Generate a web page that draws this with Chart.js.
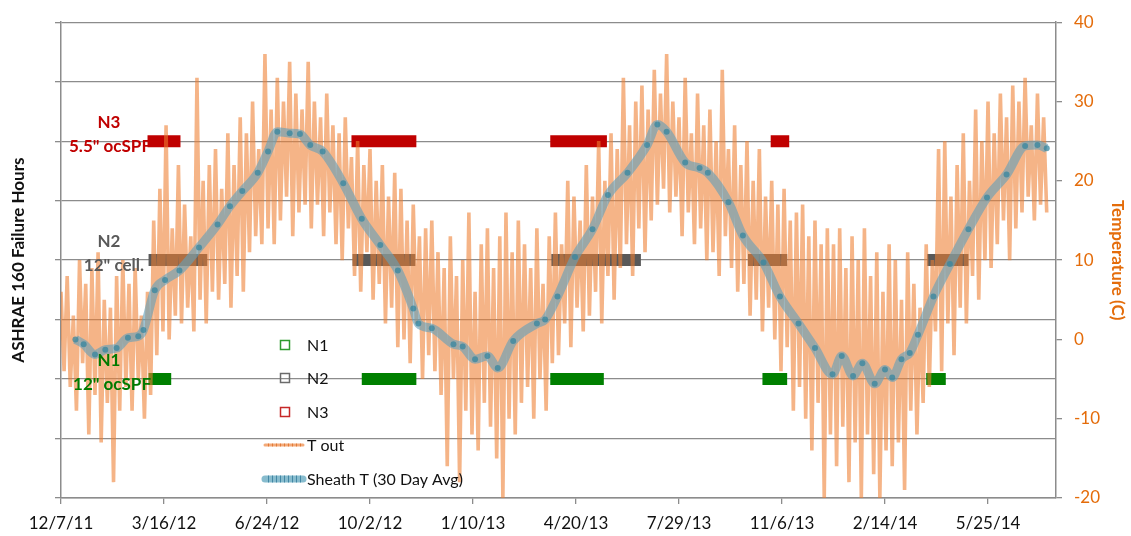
<!DOCTYPE html>
<html>
<head>
<meta charset="utf-8">
<script src="https://cdn.jsdelivr.net/npm/chart.js@4.4.1/dist/chart.umd.min.js"></script>
<style>
  html, body { margin: 0; padding: 0; background: #fff; }
  #wrap { width: 1131px; height: 536px; }
</style>
</head>
<body>
<div id="wrap"><canvas id="failureChart" width="1131" height="536"></canvas></div>
<script>
// x values are days counted from 12/7/11
const startDate = Date.UTC(2011, 11, 7);
const xMaxDays = 966;
const xTickStep = 100;
const tempMin = -20;
const tempMax = 40;
const tempStep = 10;

// T out, one reading every 3 days starting at day 0
const tOutStep = 3;
const tOut = [
  6, -4, 8, -6, 3, -9, 10, -3, 7, -12,
  9, -7, 11, -13, 5, -8, 4, -18, 8, -9,
  10, -6, 7, -9, 9, -5, 3, -10, 6, -7,
  15, -2, 19, 1, 27, 0, 14, 3, 22, 2,
  17, 4, 13, 1, 33, 5, 20, 2, 22, 6,
  24, 5, 19, 7, 26, 4, 22, 8, 28, 6,
  26, 11, 30, 13, 24, 12, 36, 14, 29, 12,
  33, 15, 30, 18, 35, 13, 31, 16, 29, 17,
  35, 14, 30, 17, 28, 13, 31, 16, 27, 12,
  26, 10, 28, 14, 23, 8, 25, 6, 22, 11,
  24, 5, 20, 7, 22, 2, 18, 4, 21, -1,
  19, 0, 15, -3, 17, 2, 13, -5, 14, -2,
  15, -4, 11, -7, 9, -16, 13, -5, 8, -18,
  10, -9, 16, -12, 6, -14, 12, -8, 14, -11,
  9, -15, 13, -20, 16, -10, 11, -12, 15, -8,
  12, -6, 9, -10, 14, -5, 7, -9, 13, -3,
  16, -2, 12, 2, 20, -1, 18, 4, 15, 1,
  22, 3, 18, 6, 25, 2, 20, 8, 26, 5,
  24, 9, 33, 12, 27, 8, 30, 14, 32, 11,
  29, 15, 34, 17, 31, 19, 36, 16, 30, 18,
  28, 13, 33, 16, 26, 12, 31, 14, 27, 10,
  29, 11, 25, 8, 34, 13, 24, 9, 27, 6,
  22, 7, 25, 3, 20, 5, 24, 1, 18, 4,
  20, 0, 17, -4, 19, -1, 15, -9, 16, -6,
  17, -10, 13, -14, 15, -8, 12, -20, 14, -12,
  12, -16, 14, -11, 9, -18, 13, -13, 10, -20,
  14, -12, 8, -17, 11, -20, 6, -14, 12, -16,
  10, -13, 5, -19, 11, -9, 7, -12, 4, -8,
  12, -6, 10, 1, 24, -4, 25, 2, 18, -2,
  22, 4, 26, 2, 20, 8, 29, 5, 25, 10,
  30, 9, 26, 12, 31, 15, 28, 10, 32, 14,
  30, 16, 33, 18, 27, 15, 31, 17, 28, 16
];

// Sheath T (30 day average)
const sheathDays = [
  14, 22, 33, 43, 54, 65, 75, 80, 91, 101,
  115, 134, 152, 164, 176, 191, 201, 210, 222, 232,
  242, 254, 274, 292, 310, 327, 342, 347, 360, 381,
  390, 402, 414, 424, 439, 462, 470, 482, 499, 516,
  531, 550, 569, 579, 588, 606, 620, 628, 648, 662,
  682, 698, 716, 732, 749, 758, 769, 778, 790, 800,
  807, 816, 824, 832, 847, 863, 881, 899, 918, 936,
  948, 957
];
const sheathTemps = [
  0.0, -0.6, -1.9, -1.3, -1.1, 0.2, 0.4, 1.2, 6.2, 7.5,
  8.7, 11.6, 14.5, 16.8, 18.7, 21.0, 23.7, 26.2, 26.0, 25.9,
  24.5, 23.7, 19.7, 15.2, 11.9, 8.7, 3.9, 2.0, 1.4, -0.6,
  -0.9, -2.5, -2.1, -3.6, -0.2, 2.0, 2.5, 5.4, 10.4, 13.9,
  18.2, 21.0, 24.5, 27.1, 26.2, 22.3, 21.6, 21.0, 17.3, 13.1,
  9.7, 5.4, 2.0, -1.1, -4.4, -2.1, -4.6, -3.0, -5.6, -3.8,
  -4.8, -2.5, -1.7, 0.6, 5.4, 9.5, 13.9, 17.9, 20.8, 24.4,
  24.5, 24.1
];

// ASHRAE 160 failure periods, [first day, last day]
const n1Level = 2;
const n2Level = 4;
const n3Level = 6;
const n1Periods = [[85, 107], [292, 345], [475, 527], [681, 705], [840, 859]];
const n2Periods = [[85, 142], [283, 344], [476, 563], [667, 705], [841, 881]];
const n3Periods = [[84, 116], [282, 345], [475, 530], [689, 707]];

const GRID = "#8c8c8c";
const ORANGE_TEXT = "#E46C0A";
const FONT = "Lato, 'Open Sans', sans-serif";

const formatDay = (v) => {
  const d = new Date(startDate + v * 86400000);
  return (d.getUTCMonth() + 1) + "/" + d.getUTCDate() + "/" + String(d.getUTCFullYear()).slice(2);
};

const periodPoints = (periods, level) => {
  const pts = [];
  periods.forEach(([a, b], i) => {
    if (i > 0) pts.push({ x: a - 1, y: null });
    pts.push({ x: a, y: level }, { x: b, y: level });
  });
  return pts;
};

const tOutPoints = tOut.map((t, i) => ({ x: i * tOutStep, y: t }));
const sheathPoints = sheathDays.map((d, i) => ({ x: d, y: sheathTemps[i] }));

// annotations next to the failure bars + the inside legend
const overlayPlugin = {
  id: "overlay",
  afterDraw(chart) {
    const ctx = chart.ctx;
    const yH = chart.scales.hours;
    ctx.save();
    ctx.font = "bold 17px " + FONT;
    ctx.textBaseline = "middle";
    const labels = [
      { level: n3Level, color: "#C00000", top: "N3", bottom: '5.5" ocSPF', right: 151 },
      { level: n2Level, color: "#595959", top: "N2", bottom: '12" cell.', right: 144 },
      { level: n1Level, color: "#007A00", top: "N1", bottom: '12" ocSPF', right: 151 },
    ];
    labels.forEach((l) => {
      const y = yH.getPixelForValue(l.level);
      ctx.fillStyle = l.color;
      ctx.textAlign = "center";
      ctx.fillText(l.top, 109, y - 19);
      ctx.textAlign = "right";
      ctx.fillText(l.bottom, l.right, y + 5);
    });

    // legend
    ctx.font = "16px " + FONT;
    ctx.textAlign = "left";
    const boxes = [
      { color: "#2E9B2E", label: "N1", y: 345 },
      { color: "#6b6b6b", label: "N2", y: 378 },
      { color: "#C62828", label: "N3", y: 412 },
    ];
    boxes.forEach((b) => {
      ctx.strokeStyle = b.color;
      ctx.lineWidth = 1.5;
      ctx.strokeRect(280.5, b.y - 4.5, 9, 9);
      ctx.fillStyle = "#111";
      ctx.fillText(b.label, 307, b.y + 1);
    });
    const lines = [
      { color: "rgba(237,125,49,0.65)", tick: "rgba(220,110,40,0.8)", w: 3, label: "T out", y: 445 },
      { color: "rgba(95,165,190,0.75)", tick: "rgba(60,130,160,0.9)", w: 7, label: "Sheath T (30 Day Avg)", y: 479 },
    ];
    lines.forEach((l) => {
      ctx.strokeStyle = l.color;
      ctx.lineWidth = l.w;
      ctx.lineCap = "round";
      ctx.beginPath();
      ctx.moveTo(265, l.y);
      ctx.lineTo(303, l.y);
      ctx.stroke();
      ctx.strokeStyle = l.tick;
      ctx.lineWidth = 1;
      ctx.lineCap = "butt";
      for (let x = 268; x < 302; x += 4) {
        ctx.beginPath();
        ctx.moveTo(x + 0.5, l.y - l.w / 2);
        ctx.lineTo(x + 0.5, l.y + l.w / 2);
        ctx.stroke();
      }
      ctx.fillStyle = "#111";
      ctx.fillText(l.label, 307, l.y + 1);
    });
    ctx.restore();
  },
};

const barStyle = (color) => ({
  showLine: true,
  borderColor: color,
  backgroundColor: color,
  borderWidth: 12,
  borderCapStyle: "butt",
  pointRadius: 0,
  spanGaps: false,
  yAxisID: "hours",
  order: 3,
});

new Chart(document.getElementById("failureChart"), {
  type: "scatter",
  data: {
    datasets: [
      {
        label: "Sheath T (30 Day Avg)",
        data: sheathPoints,
        showLine: true,
        yAxisID: "temp",
        borderColor: "rgba(100,160,185,0.62)",
        borderWidth: 9,
        cubicInterpolationMode: "monotone",
        pointRadius: 3,
        pointBorderWidth: 0,
        pointBackgroundColor: "rgba(55,135,160,0.75)",
        order: 1,
      },
      {
        label: "T out",
        data: tOutPoints,
        showLine: true,
        yAxisID: "temp",
        borderColor: "rgba(237,125,49,0.58)",
        borderWidth: 3.6,
        borderJoinStyle: "bevel",
        pointRadius: 0,
        tension: 0,
        order: 2,
      },
      { label: "N1", data: periodPoints(n1Periods, n1Level), ...barStyle("#008000") },
      { label: "N2", data: periodPoints(n2Periods, n2Level), ...barStyle("#595959") },
      { label: "N3", data: periodPoints(n3Periods, n3Level), ...barStyle("#C00000") },
    ],
  },
  options: {
    responsive: false,
    animation: false,
    layout: { padding: { top: 15, left: 0, right: 0, bottom: 0 } },
    plugins: {
      legend: { display: false },
      tooltip: { enabled: false },
    },
    scales: {
      x: {
        type: "linear",
        min: 0,
        max: xMaxDays,
        afterFit: (s) => { s.height = 38; },
        afterBuildTicks: (s) => {
          s.ticks = s.ticks.filter((t) => t.value % xTickStep === 0);
        },
        ticks: {
          stepSize: xTickStep,
          padding: 9,
          color: "#111",
          font: { family: FONT, size: 17 },
          callback: (v) => formatDay(v),
          maxRotation: 0,
        },
        grid: { drawOnChartArea: false, color: GRID, tickLength: 6, lineWidth: 1.3 },
        border: { color: GRID, width: 1.5 },
      },
      hours: {
        position: "left",
        min: 0,
        max: 8,
        afterFit: (s) => { s.width = 61; },
        ticks: { stepSize: 1, display: false },
        grid: { color: GRID, lineWidth: 1.3, tickLength: 6 },
        border: { color: GRID, width: 1.5 },
        title: {
          display: true,
          text: "ASHRAE 160 Failure Hours",
          color: "#111",
          font: { family: FONT, size: 17, weight: "bold" },
          padding: { top: 8, bottom: 0 },
        },
      },
      temp: {
        position: "right",
        min: tempMin,
        max: tempMax,
        afterFit: (s) => { s.width = 75; },
        ticks: {
          stepSize: tempStep,
          padding: 12,
          color: ORANGE_TEXT,
          font: { family: FONT, size: 17 },
        },
        grid: { drawOnChartArea: false, color: GRID, tickLength: 6, lineWidth: 1.3 },
        border: { color: GRID, width: 1.5 },
        title: {
          display: true,
          text: "Temperature (C)",
          color: ORANGE_TEXT,
          font: { family: FONT, size: 17, weight: "bold" },
          padding: { top: 3, bottom: 0 },
        },
      },
    },
  },
  plugins: [overlayPlugin],
});
</script>
</body>
</html>
